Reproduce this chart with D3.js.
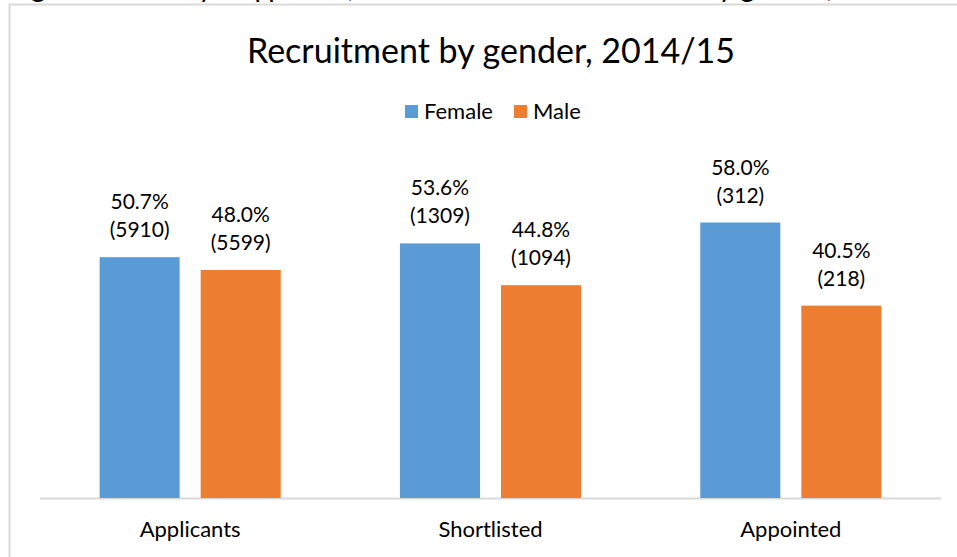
<!DOCTYPE html>
<html>
<head>
<meta charset="utf-8">
<script src="https://cdn.jsdelivr.net/npm/d3@7"></script>
<style>
  html, body { margin: 0; padding: 0; background: #fff; }
  svg { display: block; }
  text { font-family: Lato, "Open Sans", sans-serif; fill: #000; }
</style>
</head>
<body>
<svg id="chart" width="957" height="557"></svg>
<script>
const categories = ["Applicants", "Shortlisted", "Appointed"];
const seriesNames = ["Female", "Male"];
const femalePct = [50.7, 53.6, 58.0];
const malePct = [48.0, 44.8, 40.5];
const femaleCount = [5910, 1309, 312];
const maleCount = [5599, 1094, 218];
const colors = ["#5B9BD5", "#ED7D31"];
const title = "Recruitment by gender, 2014/15";
const captionParts = ["Figure 5: Summary of applicants, shortlisted and hired candidates", "by gender, 2014/15"];

const pct = [femalePct, malePct];
const cnt = [femaleCount, maleCount];

const svg = d3.select("#chart");
const plot = { left: 40, right: 941, top: 213, bottom: 498 };

// cut-off caption above the chart frame (as in the reference)
svg.append("text")
  .attr("x", 12).attr("y", -3)
  .attr("font-size", 28)
  .attr("textLength", 680)
  .text(captionParts[0]);
svg.append("text")
  .attr("x", 703).attr("y", -3)
  .attr("font-size", 28)
  .attr("textLength", 250)
  .text(captionParts[1]);

// frame
svg.append("rect")
  .attr("x", 9.5).attr("y", 4.5)
  .attr("width", 960).attr("height", 570)
  .attr("fill", "#fff")
  .attr("stroke", "#D9D9D9").attr("stroke-width", 2);

// title
svg.append("text")
  .attr("x", 491).attr("y", 63)
  .attr("text-anchor", "middle")
  .attr("font-size", 34)
  .text(title);

// legend
const legendItems = [{ name: seriesNames[0], x: 405 }, { name: seriesNames[1], x: 514 }];
legendItems.forEach((d, i) => {
  svg.append("rect").attr("x", d.x).attr("y", 105).attr("width", 13).attr("height", 13).attr("fill", colors[i]);
  svg.append("text").attr("x", d.x + 19).attr("y", 119).attr("font-size", 22).text(d.name);
});

const x0 = d3.scaleBand().domain(categories).range([plot.left, plot.right]).paddingInner(0).paddingOuter(0);
const x1 = d3.scaleBand().domain(seriesNames).range([0, x0.bandwidth()]).paddingInner(0.208).paddingOuter(0.59);
const y = d3.scaleLinear().domain([0, 60]).range([plot.bottom, plot.top]);

// axis baseline
svg.append("line")
  .attr("x1", plot.left).attr("x2", plot.right)
  .attr("y1", plot.bottom + 0.5).attr("y2", plot.bottom + 0.5)
  .attr("stroke", "#D9D9D9").attr("stroke-width", 2);

// bars
const g = svg.append("g");
seriesNames.forEach((s, si) => {
  categories.forEach((c, ci) => {
    const v = pct[si][ci];
    const bx = x0(c) + x1(s);
    g.append("rect")
      .attr("x", bx).attr("y", y(v))
      .attr("width", x1.bandwidth()).attr("height", y(0) - y(v))
      .attr("fill", colors[si]);
    const cx = bx + x1.bandwidth() / 2;
    g.append("text")
      .attr("x", cx).attr("y", y(v) - 48)
      .attr("text-anchor", "middle").attr("font-size", 21)
      .text(v.toFixed(1) + "%");
    g.append("text")
      .attr("x", cx).attr("y", y(v) - 20)
      .attr("text-anchor", "middle").attr("font-size", 21)
      .text("(" + cnt[si][ci] + ")");
  });
});

// category axis labels
const xAxis = d3.axisBottom(x0).tickSize(0).tickPadding(0);
const ax = svg.append("g").attr("transform", `translate(0,${plot.bottom})`).call(xAxis);
ax.select(".domain").remove();
ax.selectAll("text")
  .attr("font-size", 22)
  .attr("font-family", "Lato, 'Open Sans', sans-serif")
  .attr("fill", "#000")
  .attr("dy", null)
  .attr("y", 39);
</script>
</body>
</html>
